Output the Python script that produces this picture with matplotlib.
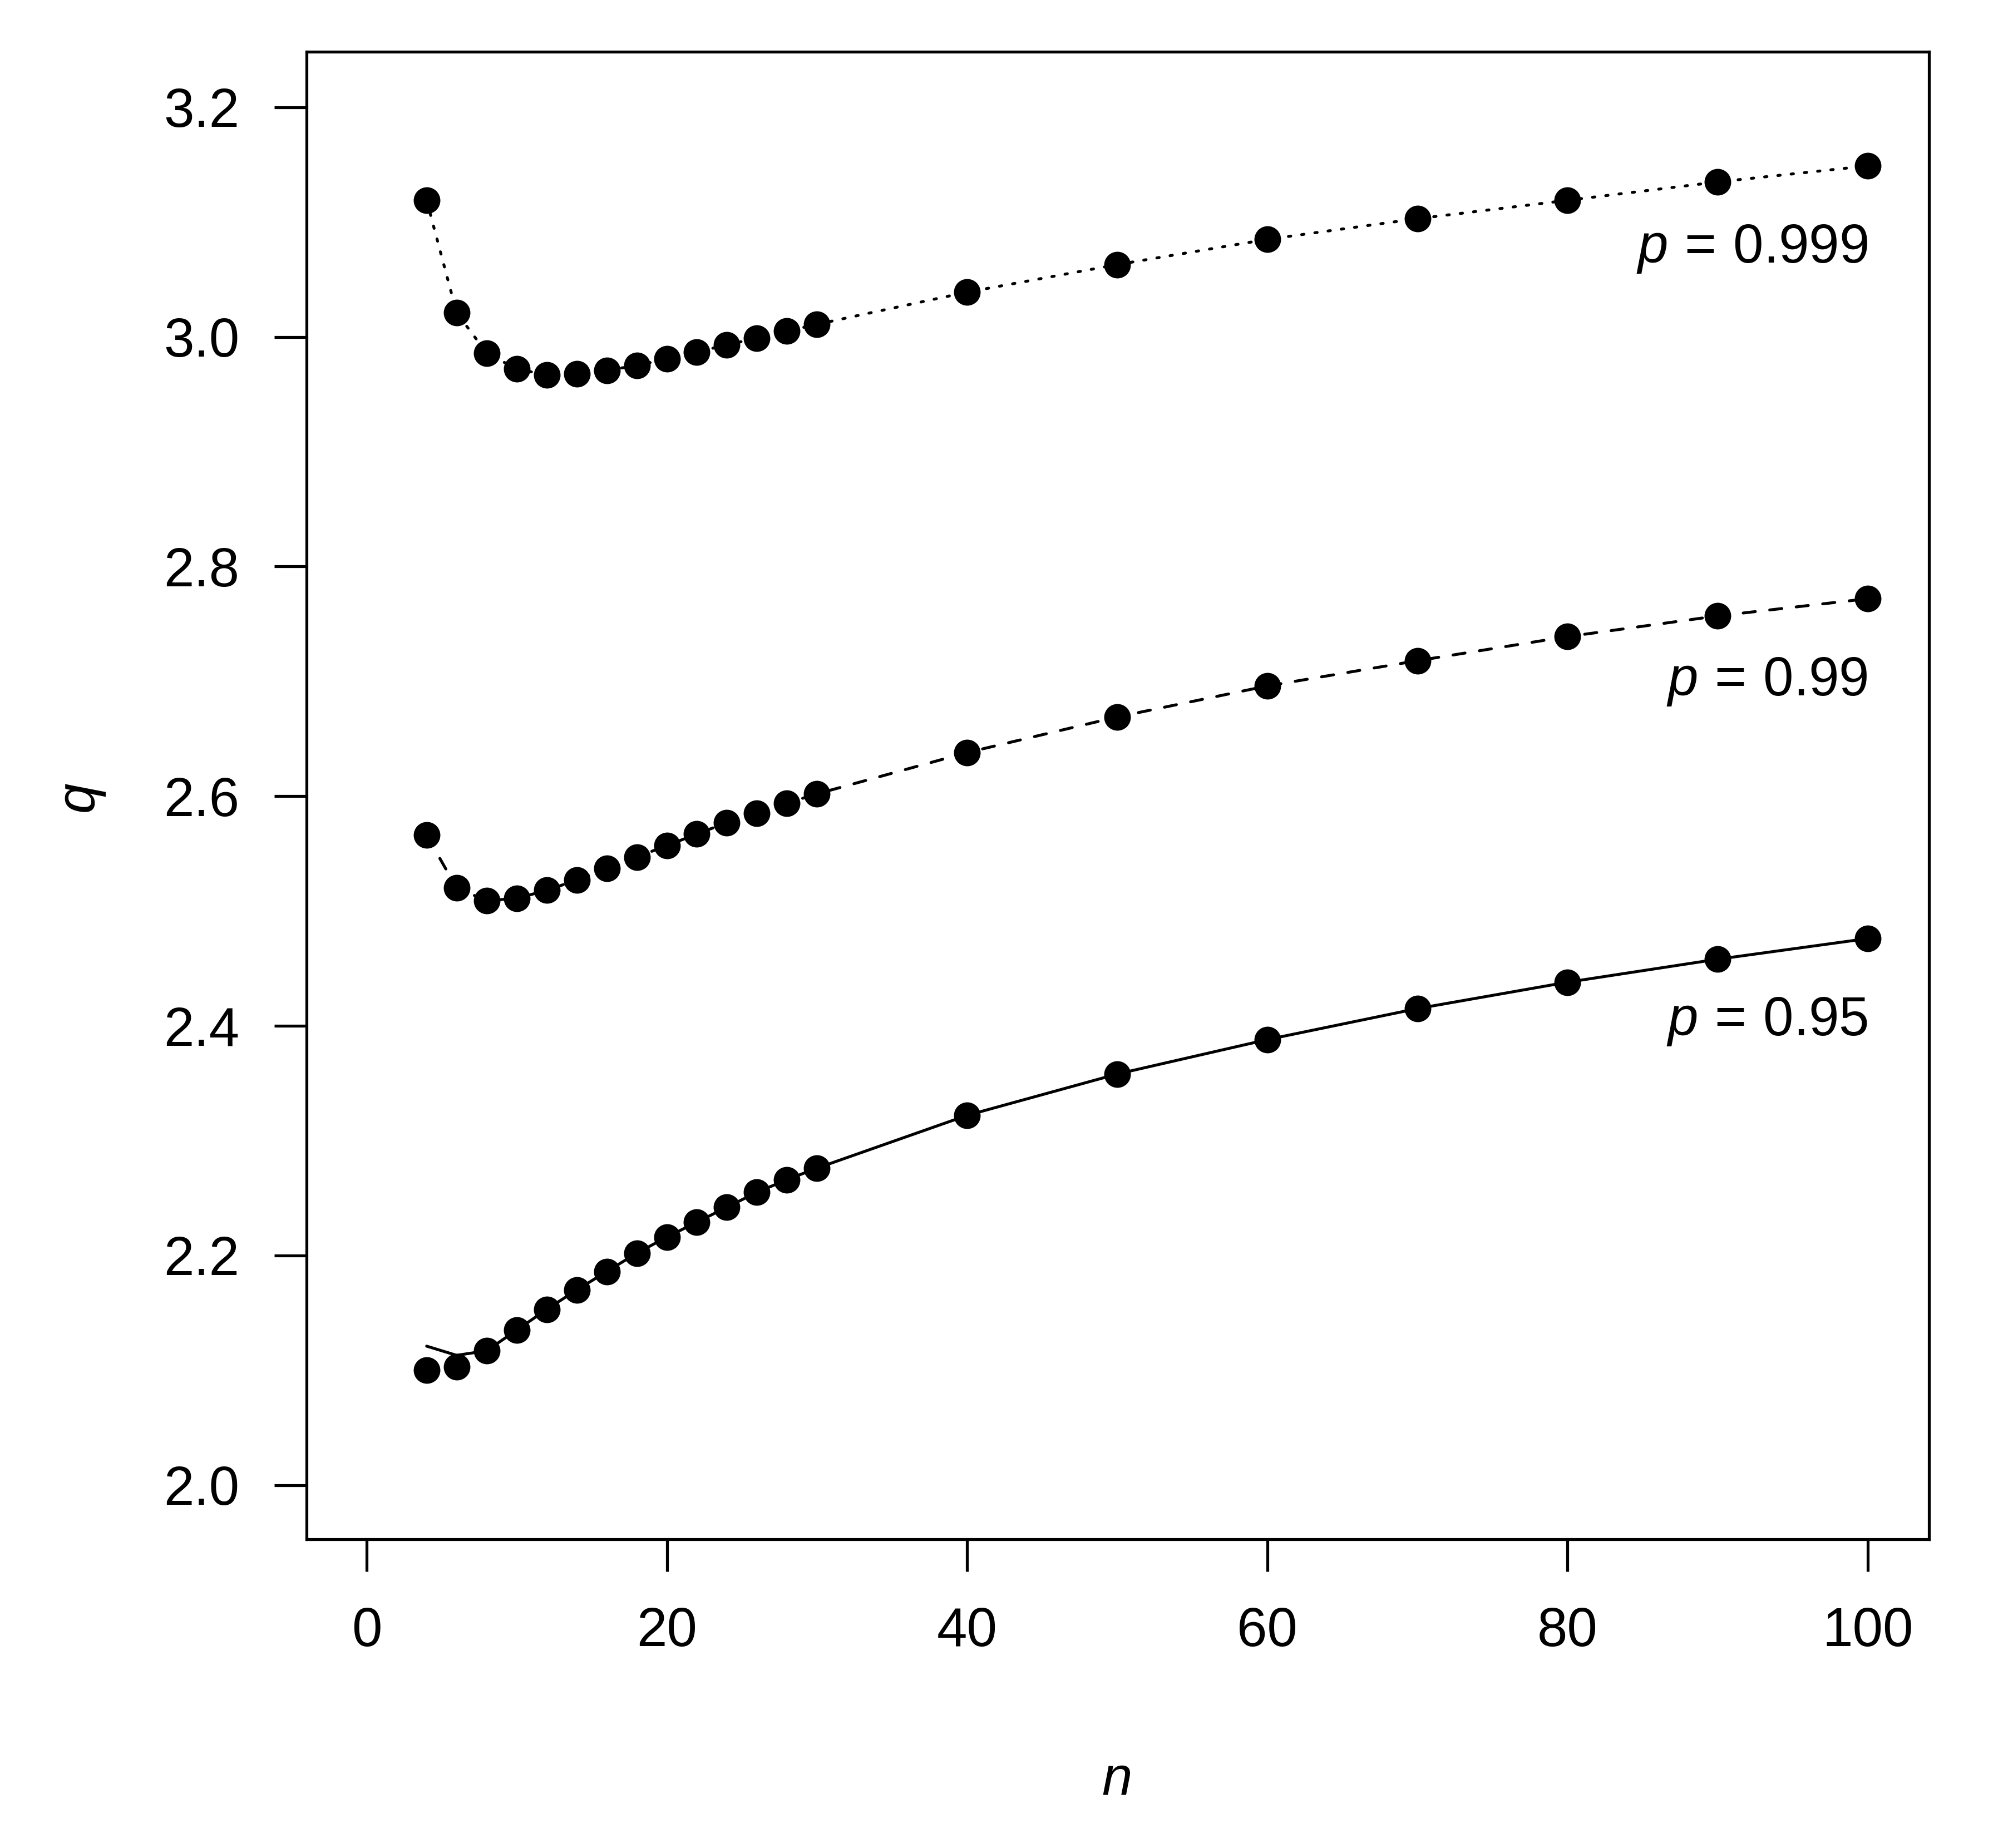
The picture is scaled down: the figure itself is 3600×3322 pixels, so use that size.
import numpy as np
import matplotlib.pyplot as plt

plt.rcParams['font.family'] = ['Liberation Sans', 'DejaVu Sans']
plt.rcParams['mathtext.fontset'] = 'custom'
plt.rcParams['mathtext.rm'] = 'Liberation Sans'
plt.rcParams['mathtext.it'] = 'Liberation Sans:italic'

# sample sizes where the points are shown
n = [4, 6, 8, 10, 12, 14, 16, 18, 20, 22, 24, 26, 28, 30,
     40, 50, 60, 70, 80, 90, 100]

# critical values
q95 = [2.100, 2.103, 2.117, 2.135, 2.153, 2.170, 2.186, 2.202, 2.216, 2.229,
       2.242, 2.255, 2.266, 2.276, 2.322, 2.358, 2.388, 2.415, 2.438, 2.458, 2.476]
q99 = [2.566, 2.520, 2.509, 2.511, 2.518, 2.527, 2.537, 2.547, 2.557, 2.567,
       2.577, 2.585, 2.594, 2.602, 2.638, 2.669, 2.696, 2.718, 2.739, 2.757, 2.772]
q999 = [3.119, 3.021, 2.986, 2.972, 2.967, 2.968, 2.971, 2.975, 2.981, 2.987,
        2.993, 2.999, 3.005, 3.011, 3.039, 3.063, 3.085, 3.103, 3.119, 3.135, 3.149]

# the curve for p = 0.95 sits a little above the points at the smallest n
q95_curve = [2.121, 2.113] + q95[2:]

labels = ['0.95', '0.99', '0.999']

fig = plt.figure(figsize=(12, 3322 / 300), dpi=300)
ax = fig.add_axes([551 / 3600, 1 - 2767 / 3322, (3467 - 551) / 3600, (2767 - 93) / 3322])

lw = 1.25
ax.plot(n, q95_curve, color='black', lw=lw, solid_capstyle='round')
ax.plot(n, q99, color='black', lw=lw, dashes=(4.2, 5.0), dash_capstyle='round')
ax.plot(n, q999, color='black', lw=lw, dashes=(0.8, 3.8), dash_capstyle='round')

for q in (q95, q99, q999):
    ax.plot(n, q, 'o', color='black', markersize=11.5, markeredgewidth=0)

for q, lab in zip((q95, q99, q999), labels):
    ax.text(n[-1], q[-1] - 0.084, r'$p\,=\,%s$' % lab, ha='right', va='baseline',
            fontsize=23.5)

ax.set_xlim(-4, 104.08)
ax.set_ylim(1.9528, 3.2484)
ax.set_xticks([0, 20, 40, 60, 80, 100])
ax.set_yticks([2.0, 2.2, 2.4, 2.6, 2.8, 3.0, 3.2])
ax.set_yticklabels(['2.0', '2.2', '2.4', '2.6', '2.8', '3.0', '3.2'])
ax.tick_params(direction='out', length=14, width=lw, labelsize=23.5, pad=15)
for s in ax.spines.values():
    s.set_linewidth(lw)

fig.text(2008 / 3600, 1 - 3225 / 3322, 'n', fontstyle='italic', fontsize=23.5,
         ha='center', va='baseline')
fig.text(142 / 3600, 1 - 1432 / 3322, 'q', fontstyle='italic', fontsize=23.5,
         ha='center', va='center', rotation=90)

fig.savefig('out.png', dpi=300, facecolor='white')
